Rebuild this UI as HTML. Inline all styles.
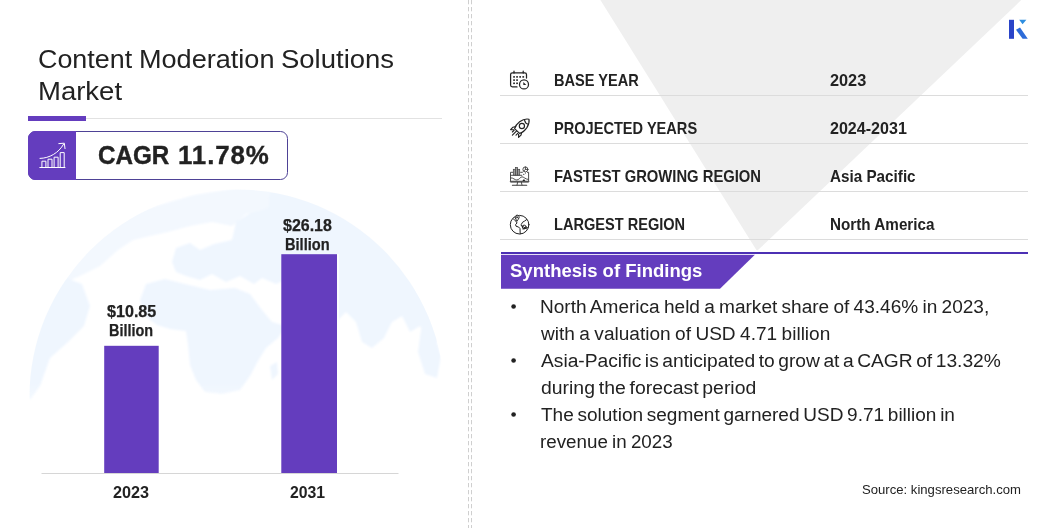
<!DOCTYPE html>
<html lang="en"><head><meta charset="utf-8"><title>Content Moderation Solutions Market</title>
<style>
html,body{margin:0;padding:0;background:#fff}
body{width:1056px;height:528px;position:relative;overflow:hidden;font-family:'Liberation Sans', sans-serif}
.t{position:absolute;white-space:nowrap;line-height:1;font-family:'Liberation Sans', sans-serif;transform-origin:0 0}
svg.bg{position:absolute;left:0;top:0}
</style></head><body>
<svg class="bg" width="1056" height="528" viewBox="0 0 1056 528">
<defs>
<filter id="bl" x="-10%" y="-10%" width="120%" height="120%"><feGaussianBlur stdDeviation="1.2"/></filter>
</defs>
<!-- grey triangle -->
<path d="M600.4 0 L1021.3 0 L758.5 249.6 Q757 251 755.9 249.3 Z" fill="#efefef"/>
<!-- globe watermark -->
<clipPath id="gc"><circle cx="237" cy="397" r="207.5"/></clipPath>
<linearGradient id="gf" x1="0" y1="0" x2="0" y2="1"><stop offset="0" stop-color="#fff"/><stop offset="0.78" stop-color="#fff"/><stop offset="1" stop-color="#000"/></linearGradient>
<mask id="gm"><rect x="0" y="180" width="470" height="260" fill="url(#gf)"/></mask>
<g clip-path="url(#gc)" mask="url(#gm)"><g fill="#eff6fe" filter="url(#bl)">
<!-- arctic band -->
<path fill="#f3f8fe" d="M60 285 L80 258 L107 228 L142 210 L194 195 L238 188 L270 189 L268 208 L246 214 L232 226 L212 222 L190 226 L168 232 L150 236 L133 240 L118 250 L100 266 L84 274 Z"/>
<!-- europe + scandinavia -->
<path d="M172 262 L176 248 L190 243 L200 250 L214 244 L232 240 L236 222 L250 213 L268 208 L270 189 L290 192 L300 230 L300 262 L290 278 L276 284 L262 278 L254 284 L240 276 L226 282 L212 274 L200 280 L186 276 L176 272 Z"/>
<!-- asia -->
<path d="M290 192 L320 203 L356 221 L387 246 L412 278 L430 312 L441 342 L430 340 L420 326 L410 332 L402 316 L392 322 L384 338 L372 348 L362 342 L356 322 L346 312 L338 320 L334 336 L318 340 L306 326 L296 304 L290 290 L300 262 Z"/>
<!-- africa -->
<path d="M140 300 L146 284 L165 279 L185 284 L210 290 L235 288 L250 294 L262 310 L272 322 L286 326 L278 338 L266 348 L258 361 L250 376 L240 390 L222 394 L205 392 L196 380 L190 365 L188 345 L186 331 L170 329 L157 325 L145 316 Z"/>
<path d="M270 366 L277 362 L278 374 L272 380 Z"/>
<!-- s america -->
<path d="M66 278 L82 284 L90 306 L84 326 L68 342 L50 358 L40 386 L30 400 L22 384 L32 336 L48 298 Z"/>
<!-- australia -->
<path d="M422 322 L434 332 L441 356 L437 378 L425 374 L418 352 Z"/>
</g></g>
<!-- dashed divider -->
<line x1="468.5" y1="0" x2="468.5" y2="528" stroke="#cfcfcf" stroke-width="1" stroke-dasharray="4.3 2.7"/>
<line x1="471.5" y1="0" x2="471.5" y2="528" stroke="#cfcfcf" stroke-width="1" stroke-dasharray="4.3 2.7"/>
<!-- title underline -->
<rect x="86" y="118" width="356" height="1" fill="#e2e2e2"/>
<rect x="28" y="116" width="58" height="5" fill="#643dbe"/>
<!-- CAGR box -->
<rect x="28.5" y="131.5" width="259" height="48" rx="7" ry="7" fill="#fff" stroke="#4e4296" stroke-width="1"/>
<path d="M35.5 131 H76 V180 H35.5 A7.5 7.5 0 0 1 28 172.5 V138.5 A7.5 7.5 0 0 1 35.5 131 Z" fill="#643dbe"/>
<!-- bars -->
<rect x="104.2" y="345.8" width="54.5" height="127.2" fill="#643dbe"/>
<rect x="281.3" y="254.2" width="55.7" height="218.8" fill="#643dbe"/>
<rect x="41.5" y="473" width="357" height="1" fill="#d6d6d6"/>
<rect x="337" y="254" width="2" height="219" fill="#fff" opacity=".75"/><!-- halo -->
<!-- table lines -->
<rect x="500" y="95" width="528" height="1" fill="#dcdcdc"/>
<rect x="500" y="143" width="528" height="1" fill="#dcdcdc"/>
<rect x="500" y="191" width="528" height="1" fill="#dcdcdc"/>
<rect x="500" y="239" width="528" height="1" fill="#dcdcdc"/>
<!-- synthesis header -->
<rect x="501" y="252" width="527" height="2" fill="#4c30b4"/>
<rect x="501" y="254" width="254" height="1" fill="#e6dff6"/>
<polygon points="501,255 754.6,255 720,288.7 501,288.7" fill="#643dbe"/>
<!-- logo -->
<rect x="1009" y="19.8" width="5" height="19" fill="#2a44c8"/>
<polygon points="1016,29.8 1020,27.4 1027.8,38.8 1022.6,38.8" fill="#2d6bd8"/>
<polygon points="1019.2,19.8 1026.4,19.8 1022.6,24.2" fill="#2f8ee0"/>

<!-- CAGR icon -->
<g fill="none" stroke="#fff" stroke-width="1" stroke-linecap="round" stroke-linejoin="round">
<path d="M39.8 167.5 H65"/>
<rect x="42.3" y="161.2" width="3.6" height="6.3"/>
<rect x="48.4" y="159.2" width="3.6" height="8.3"/>
<rect x="54.5" y="157.2" width="3.6" height="10.3"/>
<rect x="60.6" y="152.6" width="3.6" height="14.9"/>
<path d="M40 158.4 C49.5 158.2 58.5 153 63.6 144.2"/>
<path d="M58.8 143.6 L64.3 143.2 L65 148.6"/>
</g>
<!-- calendar icon -->
<g fill="none" stroke="#222" stroke-width="1.25" stroke-linecap="round" stroke-linejoin="round">
<path d="M517 86.9 H512.4 A1.8 1.8 0 0 1 510.6 85.1 V74.6 A1.8 1.8 0 0 1 512.4 72.8 H524.7 A1.8 1.8 0 0 1 526.5 74.6 V78"/>
<path d="M514 71.2 V73 M523.2 71.2 V73"/>
<circle cx="524" cy="84.4" r="4.5"/>
</g>
<g fill="#222">
<rect x="513.2" y="76.1" width="1.7" height="1.6"/><rect x="516.2" y="76.1" width="1.7" height="1.6"/><rect x="519.3" y="76.1" width="1.7" height="1.6"/><rect x="522.4" y="76.1" width="1.7" height="1.6"/>
<rect x="513.2" y="79.3" width="1.7" height="1.6"/><rect x="516.2" y="79.3" width="1.7" height="1.6"/>
<rect x="513.2" y="82.5" width="1.7" height="1.6"/><rect x="516.2" y="82.5" width="1.7" height="1.6"/>
<path d="M523.3 82 V85 H526.3 Z"/>
</g>
<!-- rocket icon -->
<g fill="none" stroke="#222" stroke-width="1.15" stroke-linecap="round" stroke-linejoin="round">
<path d="M529 119.2 C526 118.6 522.5 119.6 519.6 121.8 C517.2 123.7 515.2 126.2 514.6 128.6 L519.6 133.4 C522.4 132.6 525 130.4 526.9 127.6 C528.7 124.8 529.5 121.8 529 119.2 Z"/>
<circle cx="521.9" cy="126" r="2.6"/>
<path d="M524.6 120.3 C525 122.4 526.4 123.8 528.4 124.3"/>
<path d="M515.6 126.6 L513 127.2 L510.6 129.6 L513.6 129.8"/>
<path d="M521.6 132.6 L521 135.2 L518.6 137.4 L518.6 134.2"/>
<path d="M516.4 131.2 L512.4 135.2 M514.2 130.2 L512.4 132 M517.8 133.4 L516 135.2"/>
</g>
<!-- fastest growing region icon -->
<g fill="none" stroke="#3a3a3a" stroke-width="0.9" stroke-linejoin="round" stroke-linecap="round">
<path d="M513 172.3 H510.5 V182 H528.6 V172.3 H527.4 M520.6 172.3 H522.4"/>
<path d="M510.5 181.4 H528.6" stroke-width="1.5" stroke="#555"/>
<path d="M512.4 185.3 H526.7" stroke-width="1.1"/>
<path d="M517.6 182.4 L517 185 M521.4 182.4 L522 185"/>
<path d="M511.2 177.9 C513.4 177.7 514.6 180 516.8 180 C519 180 520.4 176.9 522 176.8 C523.6 176.8 525.4 179.2 528 179.4"/>
<path d="M511 175.3 H521.8"/>
<circle cx="525.4" cy="169.4" r="2.5"/>
<path d="M525.4 167 V169.4 H527.8 M525.4 169.4 L523.7 171.1"/>
</g>
<g fill="#9a9a9a" stroke="#444" stroke-width="0.7">
<rect x="513.3" y="169.3" width="2.1" height="5.8"/><rect x="515.4" y="167.4" width="2.2" height="7.7"/><rect x="517.6" y="169.3" width="2.1" height="5.8"/>
</g>
<g fill="#222">
<path d="M522.3 180.9 L524 178.9 L525.3 180.9 Z"/>
<circle cx="523.8" cy="174.3" r="0.6"/><circle cx="525.4" cy="173" r="0.55"/>
</g>
<!-- globe icon -->
<g fill="none" stroke="#222" stroke-width="1" stroke-linecap="round" stroke-linejoin="round">
<circle cx="519.6" cy="224.7" r="9.3"/>
<path d="M513.6 219 L515 220.6 L516.4 221.6 L517 223 L515.6 224.6 L516 226.2 L518.6 227 L520 228.6 L520.2 233.8"/>
<path d="M526.6 219.6 L524.4 221.2 L522.6 222.2 L521.2 224.6 L521.4 226 L522.8 226.8"/>
<circle cx="524.2" cy="227" r="1.9"/>
<path d="M522 226 L526.4 228.6 M523 229 L527.4 227.6"/>
<path d="M517 220.8 C515 218.6 514.7 216.5 516 215.5 C517.6 214.5 519.5 215.8 519.1 217.7 C518.8 218.9 517.8 220 517 220.8 Z" fill="#fff"/>
<circle cx="516.9" cy="217.3" r="0.8" fill="#888" stroke-width="0.6"/>
</g>
<!-- bullets -->
<circle cx="513.6" cy="306.5" r="2.3" fill="#222"/><circle cx="513.6" cy="360.5" r="2.3" fill="#222"/><circle cx="513.6" cy="414.5" r="2.3" fill="#222"/>
</svg>

<div class="t" style="left:37.72px;top:46px;font-size:26px;font-weight:400;color:#222;transform:scaleX(1.0335)">Content</div>
<div class="t" style="left:38.08px;top:78px;font-size:26px;font-weight:400;color:#222;transform:scaleX(1.0573)">Market</div>
<div class="t" style="left:98.42px;top:143px;font-size:25.75px;font-weight:700;color:#222;transform:scaleX(0.9411);-webkit-text-stroke:0.4px #222">CAGR</div>
<div class="t" style="left:107.01px;top:304px;font-size:16.75px;font-weight:700;color:#222;transform:scaleX(0.9623);-webkit-text-stroke:0.25px #222">$10.85</div>
<div class="t" style="left:109.47px;top:323px;font-size:16.75px;font-weight:700;color:#222;transform:scaleX(0.8612);-webkit-text-stroke:0.25px #222">Billion</div>
<div class="t" style="left:283.21px;top:218px;font-size:16.75px;font-weight:700;color:#222;transform:scaleX(0.9547);-webkit-text-stroke:0.25px #222">$26.18</div>
<div class="t" style="left:285.44px;top:237px;font-size:16.75px;font-weight:700;color:#222;transform:scaleX(0.8712);-webkit-text-stroke:0.25px #222">Billion</div>
<div class="t" style="left:113.08px;top:484px;font-size:16.5px;font-weight:700;color:#222;transform:scaleX(0.9829)">2023</div>
<div class="t" style="left:290.33px;top:484px;font-size:16.5px;font-weight:700;color:#222;transform:scaleX(0.9561)">2031</div>
<div class="t" style="left:553.60px;top:72px;font-size:16.5px;font-weight:700;color:#222;transform:scaleX(0.8833)">BASE YEAR</div>
<div class="t" style="left:553.61px;top:120px;font-size:16.5px;font-weight:700;color:#222;transform:scaleX(0.8834)">PROJECTED YEARS</div>
<div class="t" style="left:553.60px;top:168px;font-size:16.5px;font-weight:700;color:#222;transform:scaleX(0.8963)">FASTEST GROWING REGION</div>
<div class="t" style="left:553.60px;top:216px;font-size:16.5px;font-weight:700;color:#222;transform:scaleX(0.8828)">LARGEST REGION</div>
<div class="t" style="left:829.89px;top:72px;font-size:16.5px;font-weight:700;color:#222;transform:scaleX(0.9875)">2023</div>
<div class="t" style="left:829.90px;top:120px;font-size:16.5px;font-weight:700;color:#222;transform:scaleX(0.9737)">2024-2031</div>
<div class="t" style="left:829.94px;top:168px;font-size:16.5px;font-weight:700;color:#222;transform:scaleX(0.9240)">Asia Pacific</div>
<div class="t" style="left:829.57px;top:216px;font-size:16.5px;font-weight:700;color:#222;transform:scaleX(0.9240)">North America</div>
<div class="t" style="left:510.04px;top:262px;font-size:18px;font-weight:700;color:#fff;transform:scaleX(1.0287)">Synthesis of Findings</div>
<div class="t" style="left:539.68px;top:298px;font-size:18px;font-weight:400;color:#222;transform:scaleX(1.0589);word-spacing:-1.0px">North America held a market share of 43.46% in 2023,</div>
<div class="t" style="left:541.29px;top:325px;font-size:18px;font-weight:400;color:#222;transform:scaleX(1.0583);word-spacing:-0.8px">with a valuation of USD 4.71 billion</div>
<div class="t" style="left:541.13px;top:352px;font-size:18px;font-weight:400;color:#222;transform:scaleX(1.0672);word-spacing:-1.7px">Asia-Pacific is anticipated to grow at a CAGR of 13.32%</div>
<div class="t" style="left:540.50px;top:379px;font-size:18px;font-weight:400;color:#222;transform:scaleX(1.0784);word-spacing:-1.5px">during the forecast period</div>
<div class="t" style="left:540.91px;top:406px;font-size:18px;font-weight:400;color:#222;transform:scaleX(1.0567);word-spacing:-1.5px">The solution segment garnered USD 9.71 billion in</div>
<div class="t" style="left:540.10px;top:433px;font-size:18px;font-weight:400;color:#222;transform:scaleX(1.0442);word-spacing:-1.0px">revenue in 2023</div>
<div class="t" style="left:861.54px;top:483px;font-size:13px;font-weight:400;color:#222;transform:scaleX(1.0090)">Source: kingsresearch.com</div>
<div class="t" style="left:138.72px;top:46px;font-size:26px;font-weight:400;color:#222;transform:scaleX(1.0417)">Moderation</div>
<div class="t" style="left:280.61px;top:46px;font-size:26px;font-weight:400;color:#222;transform:scaleX(1.0570)">Solutions</div>
<div class="t" style="left:177.54px;top:143px;font-size:25.75px;font-weight:700;color:#222;transform:scaleX(1.0052);letter-spacing:0.9px;-webkit-text-stroke:0.35px #222">11.78%</div>
</body></html>
